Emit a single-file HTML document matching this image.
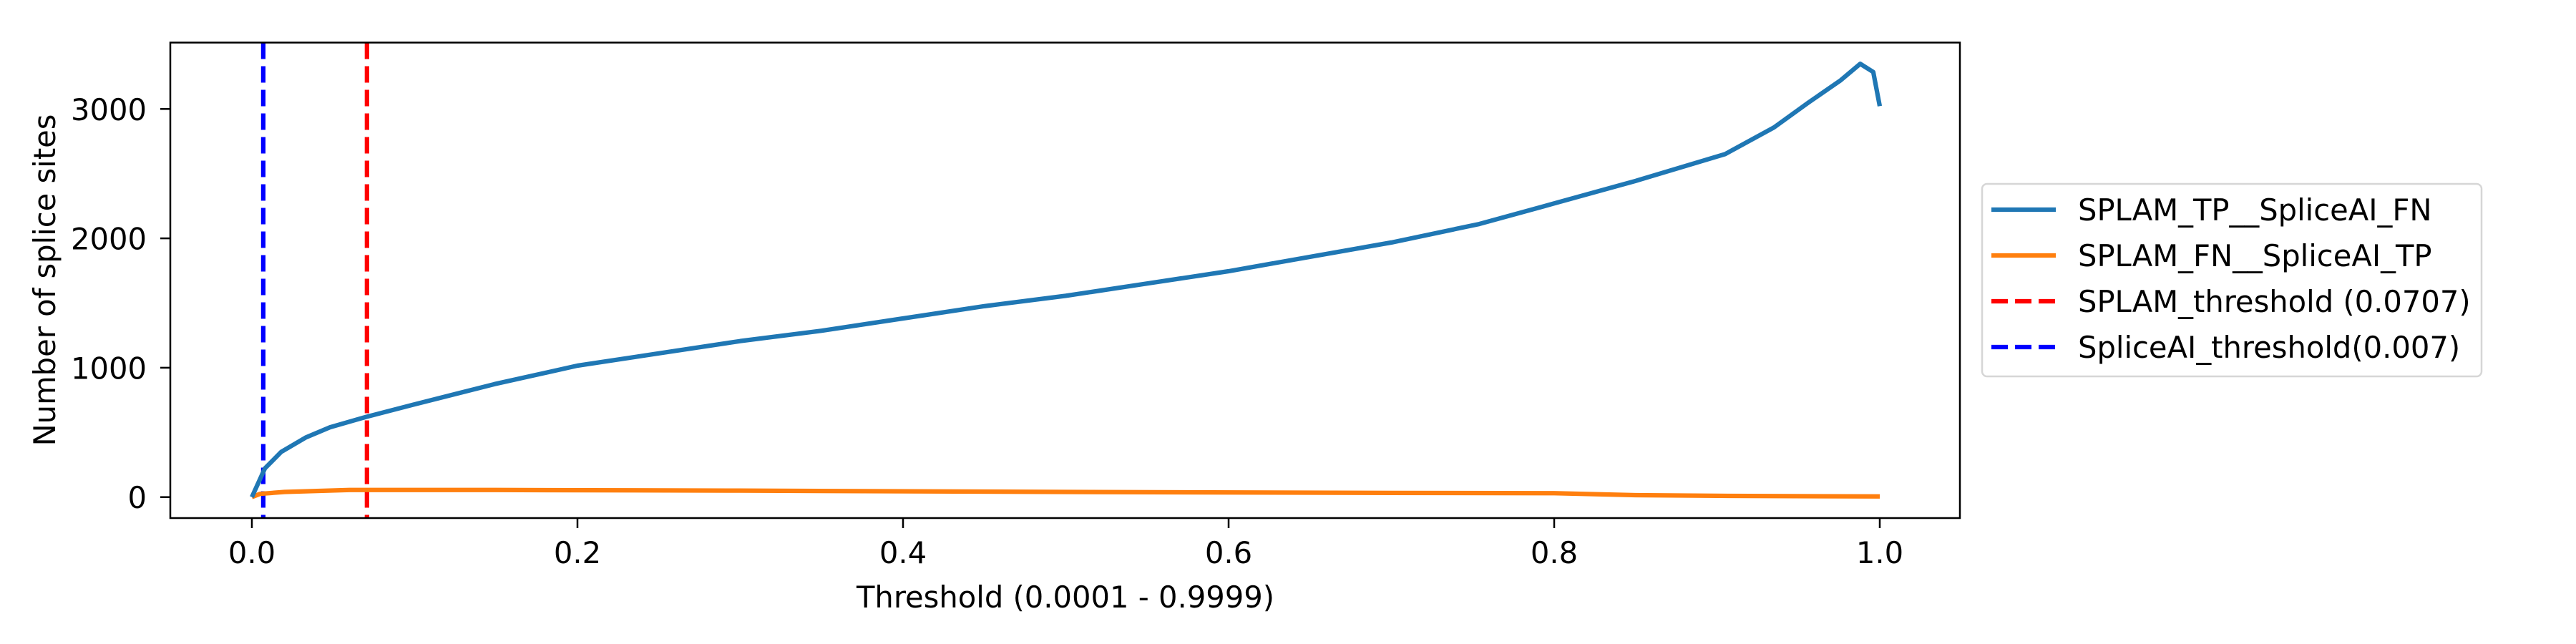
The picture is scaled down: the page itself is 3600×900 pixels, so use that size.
<!DOCTYPE html>
<html><head><meta charset="utf-8"><style>
html,body{margin:0;padding:0;background:#fff;}
svg{display:block;font-family:"DejaVu Sans","Liberation Sans",sans-serif;}
</style></head><body>
<svg id="chart" width="3600" height="900" viewBox="0 0 3600 900" xmlns="http://www.w3.org/2000/svg">
<rect x="0" y="0" width="3600" height="900" fill="#fff"/>
<g id="plot"></g>
<rect x="238" y="59.5" width="2501" height="664.5" fill="none" stroke="#000" stroke-width="2.5"/>
<g id="axes"></g>
<text x="1489" y="849" font-size="41.67" text-anchor="middle">Threshold (0.0001 - 0.9999)</text>
<text transform="translate(77,391.5) rotate(-90)" font-size="41.67" text-anchor="middle">Number of splice sites</text>
<g id="legend">
<rect x="2770" y="257" width="698" height="269" rx="7" fill="#fff" stroke="#d6d6d6" stroke-width="2.5"/>
<line x1="2783" y1="293" x2="2873" y2="293" stroke="#1f77b4" stroke-width="6.25"/>
<text x="2904" y="308" font-size="41.67">SPLAM_TP__SpliceAI_FN</text>
<line x1="2783" y1="357" x2="2873" y2="357" stroke="#ff7f0e" stroke-width="6.25"/>
<text x="2904" y="372" font-size="41.67">SPLAM_FN__SpliceAI_TP</text>
<line x1="2783" y1="421" x2="2873" y2="421" stroke="#ff0000" stroke-width="6.25" stroke-dasharray="23,10"/>
<text x="2904" y="436" font-size="41.67">SPLAM_threshold (0.0707)</text>
<line x1="2783" y1="485" x2="2873" y2="485" stroke="#0000ff" stroke-width="6.25" stroke-dasharray="23,10"/>
<text x="2904" y="500" font-size="41.67">SpliceAI_threshold(0.007)</text>
</g>
</svg>
<script>
const tpX = [0,0.008,0.018,0.033,0.048,0.07,0.099,0.149,0.2,0.25,0.3,0.35,0.4,0.45,0.5,0.55,0.6,0.65,0.7,0.754,0.8,0.85,0.905,0.935,0.956,0.976,0.988,0.996,1.0];
const tpY = [0,222,349,460,540,619,714,873,1016,1111,1206,1286,1381,1476,1556,1651,1746,1857,1968,2111,2270,2444,2651,2857,3048,3222,3349,3286,3022];
const fnX = [0,0.005,0.02,0.06,0.15,0.3,0.5,0.7,0.8,0.85,0.9,1.0];
const fnY = [0,25,40,55,55,50,40,32,30,15,10,5];
const thresholds = [0.0707,0.007];
const xTicks = [0,0.2,0.4,0.6,0.8,1.0];
const xTickLabels = ["0.0","0.2","0.4","0.6","0.8","1.0"];
const yTicks = [0,1000,2000,3000];
const yTickLabels = ["0","1000","2000","3000"];

const NS="http://www.w3.org/2000/svg";
const xs=v=>352+v*2275;
const ys=v=>694.7-v*0.1808;
const plot=document.getElementById('plot');
const axes=document.getElementById('axes');
function mk(tag,attrs,parent){const e=document.createElementNS(NS,tag);for(const k in attrs)e.setAttribute(k,attrs[k]);parent.appendChild(e);return e;}

const thrColors=["#ff0000","#0000ff"];
thresholds.forEach((t,i)=>{
  const l=mk('line',{x1:xs(t),x2:xs(t),y1:59.5,y2:724,stroke:thrColors[i],'stroke-width':6.25,'stroke-dasharray':'23,10'},plot);
  
  
});
function series(X,Y,color,name){
  const p=mk('polyline',{points:X.map((x,i)=>xs(x)+','+ys(Y[i])).join(' '),fill:'none',stroke:color,'stroke-width':6.25,'stroke-linejoin':'round'},plot);
  
  
}
series(fnX,fnY,'#ff7f0e','line-splam-fn-spliceai-tp');
series(tpX,tpY,'#1f77b4','line-splam-tp-spliceai-fn');

xTicks.forEach((v,i)=>{
  const t=mk('line',{x1:xs(v),x2:xs(v),y1:724,y2:738,stroke:'#000','stroke-width':2.5},axes);
  
  
  const s=mk('text',{x:xs(v),y:787,'font-size':41.67,'text-anchor':'middle'},axes);
  s.textContent=xTickLabels[i];
  
  
});
yTicks.forEach((v,i)=>{
  const t=mk('line',{x1:224,x2:238,y1:ys(v),y2:ys(v),stroke:'#000','stroke-width':2.5},axes);
  
  
  const s=mk('text',{x:205,y:ys(v)+15.5,'font-size':41.67,'text-anchor':'end'},axes);
  s.textContent=yTickLabels[i];
  
  
});
</script>
</body></html>
